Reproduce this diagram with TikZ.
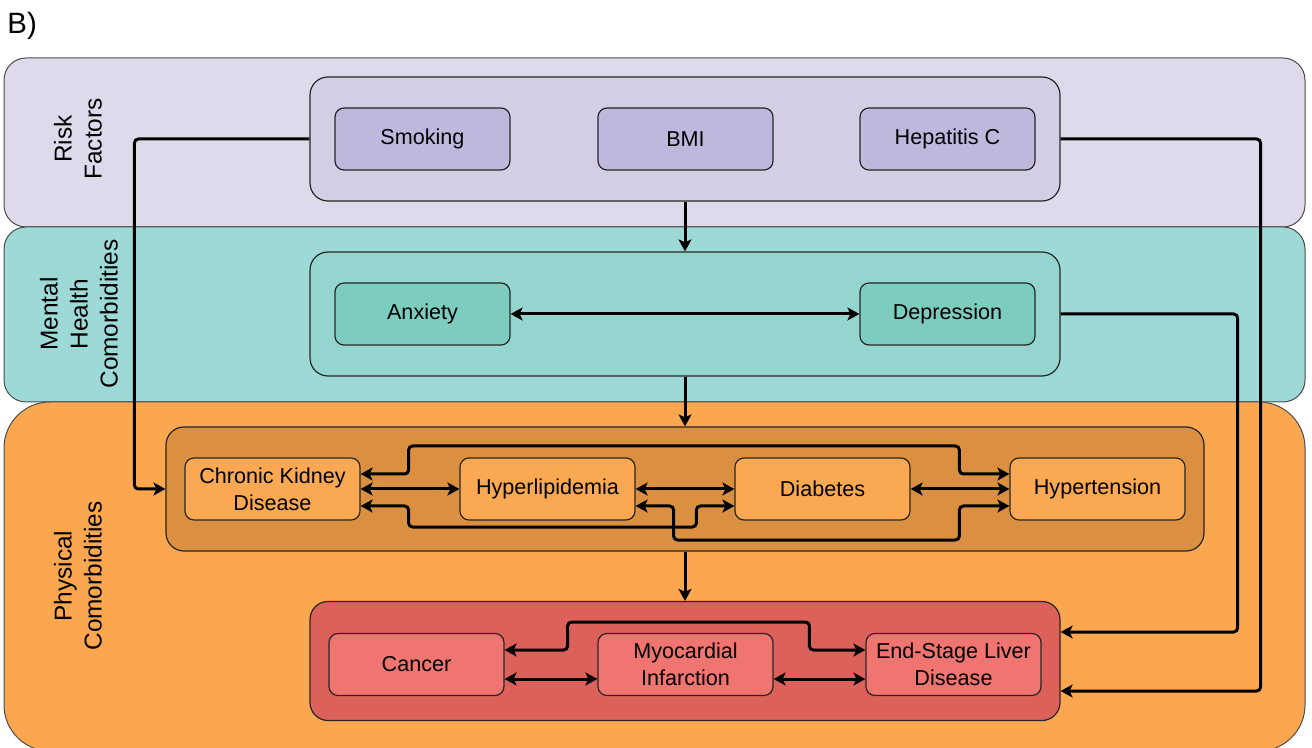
\documentclass[tikz,border=0pt]{standalone}
\usepackage{fontspec}
\setmainfont{Liberation Sans}
\usetikzlibrary{arrows.meta}

\definecolor{risklane}{RGB}{222,218,236}
\definecolor{riskgroup}{RGB}{211,206,229}
\definecolor{riskbox}{RGB}{189,184,220}
\definecolor{mentlane}{RGB}{157,217,214}
\definecolor{mentgroup}{RGB}{149,213,207}
\definecolor{mentbox}{RGB}{124,205,192}
\definecolor{physlane}{RGB}{250,167,80}
\definecolor{physgroup}{RGB}{218,144,64}
\definecolor{physbox}{RGB}{250,169,82}
\definecolor{redgroup}{RGB}{220,97,90}
\definecolor{redbox}{RGB}{240,116,111}

\begin{document}
\begin{tikzpicture}[x=0.5pt, y=-0.5pt,
	lane/.style={draw=black!70, line width=0.5pt, minimum width=650.5pt, inner sep=0pt},
	lanetext/.style={rotate=90, align=center, font=\fontsize{12.2}{15}\selectfont},
	group/.style={draw=black!85, line width=0.6pt, rounded corners=9pt, minimum height=62pt, inner sep=0pt},
	box/.style={draw=black!85, line width=0.6pt, rounded corners=4.5pt, minimum width=87.5pt, minimum height=31pt, inner sep=0pt, align=center, font=\fontsize{10.8}{13.3}\selectfont},
	link/.style={line width=1.5pt, rounded corners=2pt},
	>={Stealth[length=6pt,width=6.5pt,inset=1.5pt]}]

	\useasboundingbox (0,0) rectangle (1312,748);
	\clip (0,0) rectangle (1312,748);

	%panel letter
	\node[anchor=base west, inner sep=0pt, font=\fontsize{14.7}{17}\selectfont] (panel) at (7,34) {B)};

	%the three lanes
	\node[lane, fill=risklane, rounded corners=11pt, minimum height=84.5pt] (risk) at (654.5,142.5) {};
	\node[lane, fill=mentlane, rounded corners=11pt, minimum height=87.5pt] (ment) at (654.5,314.5) {};
	\node[lane, fill=physlane, rounded corners=23pt, minimum height=174.5pt] (phys) at (654.5,576.5) {};
	\node[lanetext] (risklabel) at (78,139) {Risk\\Factors};
	\node[lanetext] (mentlabel) at (79,314) {Mental\\Health\\Comorbidities};
	\node[lanetext] (physlabel) at (78,576) {Physical\\Comorbidities};

	%risk factors
	\node[group, fill=riskgroup, minimum width=375pt] (riskgrp) at (685,139) {};
	\node[box, fill=riskbox] (smoking) at (422.5,139) {Smoking};
	\node[box, fill=riskbox] (bmi) at (685.5,139) {BMI};
	\node[box, fill=riskbox] (hepc) at (947.5,139) {Hepatitis C};

	%mental health
	\node[group, fill=mentgroup, minimum width=375pt] (mentgrp) at (685,314) {};
	\node[box, fill=mentbox] (anxiety) at (422.5,314) {Anxiety};
	\node[box, fill=mentbox] (depr) at (947.5,314) {Depression};

	%physical, first row
	\node[group, fill=physgroup, minimum width=519pt] (physgrp) at (685,489) {};
	\node[box, fill=physbox] (ckd) at (272.5,489) {Chronic Kidney\\Disease};
	\node[box, fill=physbox] (hyperl) at (547.5,489) {Hyperlipidemia};
	\node[box, fill=physbox] (diab) at (822.5,489) {Diabetes};
	\node[box, fill=physbox] (hypert) at (1097.5,489) {Hypertension};

	%physical, second row
	\node[group, fill=redgroup, minimum width=375pt, minimum height=59.5pt] (redgrp) at (685,661) {};
	\node[box, fill=redbox] (cancer) at (416.5,664.5) {Cancer};
	\node[box, fill=redbox] (myoc) at (685.5,664.5) {Myocardial\\Infarction};
	\node[box, fill=redbox] (esld) at (953.5,664.5) {End-Stage Liver\\Disease};

	%links between the groups
	\draw[link, ->] (riskgrp.south) -- (mentgrp.north);
	\draw[link, ->] (mentgrp.south) -- (physgrp.north);
	\draw[link, ->] (physgrp.south) -- (redgrp.north);
	\draw[link, ->] (riskgrp.west) -- ++(-87.5pt,0) |- (physgrp.west);
	\draw[link, ->] (riskgrp.east) -- ++(100pt,0) |- ([yshift=-15pt]redgrp.east);
	\draw[link, ->] (mentgrp.east) -- ++(88.5pt,0) |- ([yshift=14.5pt]redgrp.east);

	%links inside the groups
	\draw[link, <->] (anxiety) -- (depr);
	\draw[link, <->] (ckd) -- (hyperl);
	\draw[link, <->] (hyperl) -- (diab);
	\draw[link, <->] (diab) -- (hypert);
	\draw[link, <->] ([yshift=7.5pt]ckd.east) -| ++(24pt,14pt) -| ([xshift=-25pt,yshift=7.5pt]hypert.west) -- ([yshift=7.5pt]hypert.west);
	\draw[link, <->] ([yshift=-8.5pt]ckd.east) -| ++(24pt,-10.5pt) -| ([xshift=-19pt,yshift=-8.5pt]diab.west) -- ([yshift=-8.5pt]diab.west);
	\draw[link, <->] ([yshift=-8.5pt]hyperl.east) -| ++(19pt,-17pt) -| ([xshift=-25pt,yshift=-8.5pt]hypert.west) -- ([yshift=-8.5pt]hypert.west);
	\draw[link, <->] ([yshift=-7.25pt]cancer.east) -- ([yshift=-7.25pt]myoc.west);
	\draw[link, <->] ([yshift=-7.25pt]myoc.east) -- ([yshift=-7.25pt]esld.west);
	\draw[link, <->] ([yshift=7.25pt]cancer.east) -| ++(31.5pt,14pt) -| ([xshift=-28pt,yshift=7.25pt]esld.west) -- ([yshift=7.25pt]esld.west);

\end{tikzpicture}
\end{document}
